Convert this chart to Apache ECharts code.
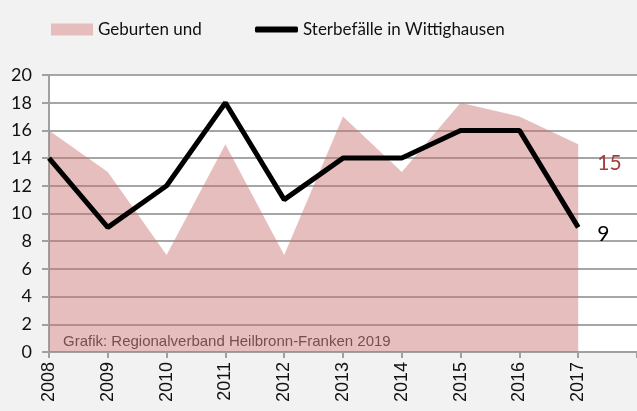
<!DOCTYPE html>
<html>
<head>
<meta charset="utf-8">
<script src="https://cdn.jsdelivr.net/npm/echarts@6/dist/echarts.min.js"></script>
<style>
  html, body { margin: 0; padding: 0; background: #f2f2f2; }
  #chart { width: 637px; height: 411px; }
</style>
</head>
<body>
<div id="chart"></div>
<script>
// Jahre (letzte Kategorie leer als Platz fuer die Endbeschriftung)
var years = ['2008', '2009', '2010', '2011', '2012', '2013', '2014', '2015', '2016', '2017', ''];
var geburten = [16, 13, 7, 15, 7, 17, 13, 18, 17, 15];
var sterbefaelle = [14, 9, 12, 18, 11, 14, 14, 16, 16, 9];
var yTicks = [0, 20, 2]; // min, max, interval

var myChart = echarts.init(document.getElementById('chart'));

var option = {
  backgroundColor: '#f2f2f2',
  animation: false,
  grid: {
    left: 49, right: -1, top: 75, bottom: 59,
    show: true, backgroundColor: '#ffffff', borderWidth: 0
  },
  legend: [{
    left: 51, top: 21, padding: 0,
    icon: 'rect', itemWidth: 42, itemHeight: 12, itemGap: 5,
    textStyle: { fontFamily: 'Lato', fontSize: 17, color: '#111' },
    data: ['Geburten und']
  }, {
    left: 255, top: 21, padding: 0,
    icon: 'roundRect', itemWidth: 43, itemHeight: 6, itemGap: 5,
    textStyle: { fontFamily: 'Lato', fontSize: 17, color: '#111' },
    data: ['Sterbefälle in Wittighausen']
  }],
  xAxis: {
    type: 'category',
    boundaryGap: false,
    data: years,
    axisLine: { lineStyle: { color: '#a0a0a0', width: 2 } },
    axisTick: { show: true, length: 6, lineStyle: { color: '#a0a0a0', width: 2 } },
    axisLabel: {
      rotate: 90, margin: 10, interval: 0,
      fontFamily: 'Liberation Sans', fontSize: 18, color: '#111'
    },
    splitLine: { show: false }
  },
  yAxis: {
    type: 'value',
    min: yTicks[0], max: yTicks[1], interval: yTicks[2],
    axisLine: { show: true, lineStyle: { color: '#a0a0a0', width: 2 } },
    axisTick: { show: true, inside: false, length: 7, lineStyle: { color: '#a0a0a0', width: 2 } },
    axisLabel: { margin: 17, fontFamily: 'Lato', fontSize: 18, color: '#111' },
    splitLine: { lineStyle: { color: '#a6a6a6', width: 2 } }
  },
  graphic: [{
    type: 'text', left: 63, top: 334,
    style: {
      text: 'Grafik: Regionalverband Heilbronn-Franken 2019',
      font: '15px "Liberation Sans"', fill: '#333'
    }
  }],
  series: [{
    name: 'Geburten und',
    type: 'line',
    data: geburten,
    showSymbol: false, symbol: 'none',
    lineStyle: { width: 0 },
    itemStyle: { color: '#e6bdbd' },
    areaStyle: { color: 'rgba(200, 110, 110, 0.45)', opacity: 1 },
    endLabel: {
      show: true, offset: [11, 19],
      color: '#a3403d', fontFamily: 'Lato', fontSize: 21,
      formatter: '{c}'
    },
    z: 2
  }, {
    name: 'Sterbefälle in Wittighausen',
    type: 'line',
    data: sterbefaelle,
    showSymbol: false, symbol: 'none',
    lineStyle: { width: 5, color: '#000' },
    itemStyle: { color: '#000' },
    endLabel: {
      show: true, offset: [11, 7],
      color: '#000', fontFamily: 'Lato', fontSize: 21,
      formatter: '{c}'
    },
    z: 3
  }]
};

myChart.setOption(option);
</script>
</body>
</html>
